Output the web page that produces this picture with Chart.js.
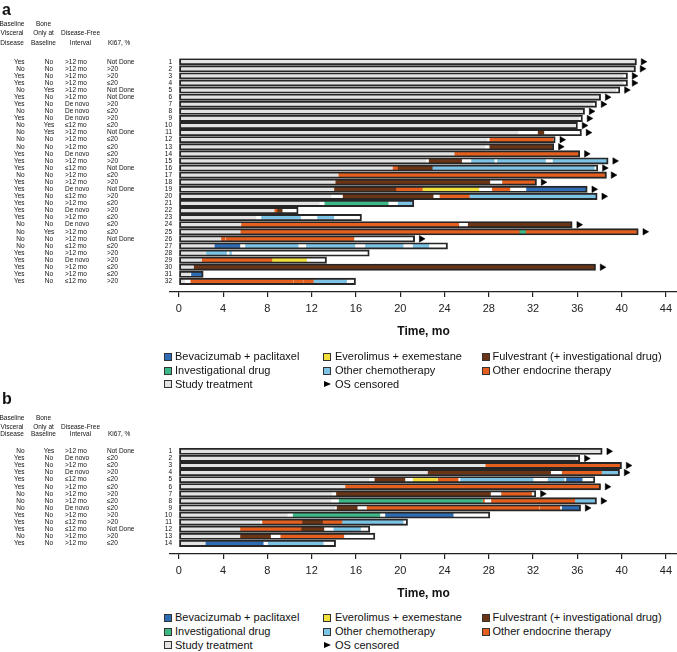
<!DOCTYPE html>
<html><head><meta charset="utf-8">
<script src="https://cdn.jsdelivr.net/npm/chart.js@4/dist/chart.umd.min.js"></script>
<style>
html,body{margin:0;padding:0;background:#fff}
body{width:677px;height:652px;overflow:hidden;position:relative;font-family:"Liberation Sans",Arial,sans-serif;color:#111}
canvas{position:absolute;left:0}
.sw{position:absolute;width:6px;height:6px;border:1px solid #333}
.tri{position:absolute;width:0;height:0;border-left:7px solid #000;border-top:3.5px solid transparent;border-bottom:3.5px solid transparent}
.lt{position:absolute;font-size:11px;line-height:13px;white-space:nowrap;color:#111}
</style></head><body>
<canvas id="ca" width="677" height="345" style="top:0"></canvas>
<canvas id="cb" width="677" height="217" style="top:390px"></canvas>
<div id="legends"></div>
<script>
const FONT = '"Liberation Sans", Arial, sans-serif';
const xTicks = [0,4,8,12,16,20,24,28,32,36,40,44];

// ---------- Panel a ----------
const rowsA = [1,2,3,4,5,6,7,8,9,10,11,12,13,14,15,16,17,18,19,20,21,22,23,24,25,26,27,28,29,30,31,32];
const visceralA = ['Yes','No','Yes','Yes','No','Yes','Yes','No','Yes','No','No','No','No','Yes','Yes','Yes','No','Yes','Yes','Yes','Yes','Yes','Yes','No','No','No','No','Yes','Yes','Yes','Yes','Yes'];
const boneA = ['No','No','No','No','Yes','No','No','No','No','Yes','Yes','No','No','No','No','No','No','No','No','No','No','No','No','No','Yes','No','No','No','No','No','No','No'];
const dfiA = ['>12 mo','>12 mo','>12 mo','>12 mo','>12 mo','>12 mo','De novo','De novo','De novo','≤12 mo','>12 mo','>12 mo','>12 mo','De novo','>12 mo','≤12 mo','>12 mo','>12 mo','De novo','≤12 mo','>12 mo','De novo','>12 mo','De novo','>12 mo','>12 mo','≤12 mo','>12 mo','De novo','>12 mo','>12 mo','≤12 mo'];
const ki67A = ['Not Done','>20','>20','≤20','Not Done','Not Done','>20','≤20','>20','≤20','Not Done','≤20','≤20','≤20','>20','Not Done','≤20','>20','Not Done','>20','≤20','>20','≤20','≤20','≤20','Not Done','≤20','>20','>20','≤20','≤20','>20'];
const studyEndA = [41.3,41.25,40.14,40.14,39.48,38.0,37.37,36.59,36.13,35.77,30.65,27.85,27.64,24.87,22.31,19.36,14.39,14.15,14.0,13.73,12.68,8.67,6.96,5.63,5.57,3.85,3.16,2.44,2.05,1.29,0.99,0.54];
const osEndA = [41.34,41.25,40.53,40.53,39.84,38.1,37.73,36.65,36.46,36.01,36.37,34.0,33.87,36.22,38.78,37.85,38.63,32.31,36.89,37.79,21.23,10.78,16.5,35.53,41.5,21.3,24.27,17.2,13.34,37.64,2.2,15.96];
const censoredA = [1,1,1,1,1,1,1,1,1,1,1,1,1,1,1,1,1,1,1,1,0,0,0,1,1,1,0,0,0,1,0,0];
// segments: [row, start, end] (months)
const bevaA = [[19,31.41,36.83],[27,3.25,5.51],[31,1.14,2.14]];
const everoA = [[19,22.07,27.1],[29,8.46,11.53]];
const fulvA = [[11,32.46,32.97],[13,28.09,33.75],[15,22.61,25.54],[16,19.81,22.89],[18,14.18,28.09],[19,14.06,19.6],[20,14.84,22.97],[22,8.91,9.33],[24,26.14,35.47],[30,1.38,37.58]];
const investA = [[21,13.19,18.91],[25,30.8,31.32]];
const chemoA = [[15,26.44,28.49],[15,28.79,33.12],[15,33.81,38.72],[16,22.89,37.52],[20,26.29,37.73],[21,19.81,21.17],[23,7.47,10.99],[23,12.53,14.0],[27,6.02,10.78],[27,11.53,15.9],[27,16.86,20.26],[27,21.17,22.58],[28,2.5,4.31],[28,4.6,4.75],[32,12.2,15.15]];
const endoA = [[12,28.09,33.81],[14,24.93,36.16],[16,19.36,19.81],[17,14.45,38.54],[18,29.24,32.16],[19,19.6,22.01],[19,28.33,29.9],[20,23.58,26.29],[22,8.67,8.91],[24,5.66,25.29],[25,5.6,30.8],[25,31.32,41.4],[26,3.85,4.16],[26,4.25,15.81],[29,2.11,8.46],[32,1.08,10.33],[32,10.4,11.2],[32,11.27,12.2]];

// ---------- Panel b ----------
const rowsB = [1,2,3,4,5,6,7,8,9,10,11,12,13,14];
const visceralB = ['No','Yes','Yes','Yes','Yes','Yes','No','No','No','Yes','Yes','Yes','No','Yes'];
const boneB = ['Yes','No','No','No','No','No','No','No','No','No','No','No','No','No'];
const dfiB = ['>12 mo','De novo','>12 mo','De novo','≤12 mo','>12 mo','>12 mo','>12 mo','De novo','>12 mo','≤12 mo','≤12 mo','>12 mo','>12 mo'];
const ki67B = ['Not Done','≤20','≤20','>20','≤20','≤20','>20','≤20','≤20','>20','>20','Not Done','>20','≤20'];
const studyEndB = [38.24,35.83,27.73,22.52,17.2,15.0,13.79,13.73,14.09,9.79,7.32,5.51,5.51,2.35];
const osEndB = [38.24,36.22,39.99,39.81,37.58,38.09,32.25,37.73,36.29,28.09,20.66,17.25,17.71,14.16];
const censoredB = [1,1,1,1,0,1,1,1,1,0,0,0,0,0];
const bevaB = [[5,35.02,36.43],[9,34.63,36.13],[10,18.67,24.78],[14,2.44,7.62]];
const everoB = [[5,21.17,23.33]];
const fulvB = [[4,22.52,33.58],[5,17.71,20.42],[7,14.24,28.15],[9,14.3,16.11],[11,11.17,12.98],[12,11.08,13.1],[13,5.57,8.28]];
const investB = [[8,14.48,27.43],[10,10.33,18.16]];
const chemoB = [[4,38.24,39.75],[5,25.45,32.0],[5,33.36,34.81],[8,35.83,37.64],[11,14.79,20.26],[12,14.0,16.41],[14,8.07,13.04]];
const endoB = [[3,27.73,39.9],[4,34.63,38.24],[5,23.42,25.23],[6,15.06,38.09],[7,29.15,31.86],[8,27.5,27.6],[8,28.24,35.83],[9,17.01,32.5],[9,32.6,34.42],[11,7.56,11.17],[11,12.98,14.79],[12,5.57,11.08],[13,9.21,14.9]];

// ---------- Legend ----------
const legendLabels = ['Bevacizumab + paclitaxel','Everolimus + exemestane','Fulvestrant (+ investigational drug)','Investigational drug','Other chemotherapy','Other endocrine therapy','Study treatment','OS censored'];
const colors = {beva:'#2E6DB4', evero:'#F2DF3A', fulv:'#6B3415', invest:'#3DB887', chemo:'#7CC3E6', endo:'#E5601F', study:'#E3E3E3'};
const legendColors = [colors.beva, colors.evero, colors.fulv, colors.invest, colors.chemo, colors.endo, colors.study, null];

const CENSOR_GAP = 0.6;

function seg(list){ return list.map(s => ({y:s[0], x:[s[1], s[2]]})); }

function buildDatasets(p){
  const bar = (label, data, color, thick, order) => ({
    type:'bar', label, data, backgroundColor:color, borderWidth:0,
    barThickness:thick, grouped:false, indexAxis:'y', order
  });
  return [
    {type:'scatter', label:'OS censored', order:0,
     data: p.rows.filter((r,i)=>p.cens[i]).map(r => ({x: p.os[p.rows.indexOf(r)] + CENSOR_GAP, y:r})),
     pointStyle:'triangle', rotation:90, pointRadius:3.8, backgroundColor:'#000', borderColor:'#000', borderWidth:0.5},
    {type:'bar', label:'outline', order:1, indexAxis:'y', grouped:false,
     data: p.rows.map((r,i)=>({y:r, x:[0, p.os[i]]})),
     backgroundColor:'rgba(0,0,0,0)', borderColor:'#262626', borderWidth:1.25, borderSkipped:false, barThickness:6.4},
    bar('Bevacizumab + paclitaxel', seg(p.beva), colors.beva, 3.8, 2),
    bar('Everolimus + exemestane', seg(p.evero), colors.evero, 3.8, 2),
    bar('Fulvestrant (+ investigational drug)', seg(p.fulv), colors.fulv, 3.8, 2),
    bar('Investigational drug', seg(p.invest), colors.invest, 3.8, 2),
    bar('Other chemotherapy', seg(p.chemo), colors.chemo, 3.8, 2),
    bar('Other endocrine therapy', seg(p.endo), colors.endo, 3.8, 2),
    bar('Study treatment', p.rows.map((r,i)=>({y:r, x:[0, p.study[i]]})), colors.study, 4.6, 3)
  ];
}

function tablePlugin(p){
  return {
    id:'table_'+p.letter,
    afterDraw(chart){
      const ctx = chart.ctx, ys = chart.scales.y;
      ctx.save();
      ctx.fillStyle = '#111';
      ctx.textBaseline = 'middle';
      ctx.font = '6.5px ' + FONT;
      p.rows.forEach((r,i) => {
        const y = ys.getPixelForValue(r);
        ctx.textAlign = 'right'; ctx.fillText(p.visceral[i], 24.5, y);
        ctx.textAlign = 'center'; ctx.fillText(p.bone[i], 49, y);
        ctx.textAlign = 'left'; ctx.fillText(p.dfi[i], 65, y); ctx.fillText(p.ki67[i], 107, y);
        ctx.textAlign = 'right'; ctx.fillText(String(r), 172, y);
      });
      const y1 = ys.getPixelForValue(p.rows[0]);
      const h = p.head;
      ctx.textAlign = 'center';
      ctx.fillText('Baseline', 12, y1 - h[0]);
      ctx.fillText('Visceral', 12, y1 - h[1]);
      ctx.fillText('Disease', 12, y1 - h[2]);
      ctx.fillText('Bone', 43.5, y1 - h[0]);
      ctx.fillText('Only at', 43.5, y1 - h[1]);
      ctx.fillText('Baseline', 43.5, y1 - h[2]);
      ctx.fillText('Disease-Free', 80.5, y1 - h[1]);
      ctx.fillText('Interval', 80.5, y1 - h[2]);
      ctx.textAlign = 'left';
      ctx.fillText('Ki67, %', 108, y1 - h[2]);
      ctx.font = 'bold 16px ' + FONT;
      ctx.textBaseline = 'alphabetic';
      ctx.fillText(p.letter, 2, p.letterY);
      ctx.restore();
    }
  };
}

function makeChart(id, p){
  return new Chart(document.getElementById(id), {
    type:'bar',
    data:{ datasets: buildDatasets(p) },
    plugins:[tablePlugin(p)],
    options:{
      indexAxis:'y', responsive:false, animation:false, events:[],
      layout:{ autoPadding:false, padding:{left:170, right:0, top:p.padTop, bottom:0} },
      plugins:{ legend:{display:false}, tooltip:{enabled:false} },
      scales:{
        x:{ type:'linear', min:-0.8, max:45, offset:false,
            afterBuildTicks: s => { s.ticks = xTicks.map(v => ({value:v})); },
            afterFit: s => { s.height = 53; s.paddingLeft = 0; s.paddingRight = 0; },
            grid:{ drawOnChartArea:false, drawTicks:true, tickLength:5, color:'#222', lineWidth:1.2, offset:false },
            border:{ display:true, color:'#222', width:1.2 },
            ticks:{ font:{family:FONT, size:11}, color:'#222', padding:5, maxRotation:0, autoSkip:false },
            title:{ display:true, text:'Time, mo', color:'#111', font:{family:FONT, size:12, weight:'bold'}, padding:{top:2, bottom:5.8} }
        },
        y:{ type:'linear', display:false, reverse:true, offset:false, min:0.5, max:p.rows.length + 1.5,
            grid:{offset:false} }
      }
    }
  });
}

makeChart('ca', {letter:'a', letterY:15, padTop:58.2, head:[37.7,28.4,18.4],
  rows:rowsA, visceral:visceralA, bone:boneA, dfi:dfiA, ki67:ki67A, study:studyEndA, os:osEndA, cens:censoredA,
  beva:bevaA, evero:everoA, fulv:fulvA, invest:investA, chemo:chemoA, endo:endoA});
makeChart('cb', {letter:'b', letterY:14, padTop:57.8, head:[33,24.5,17],
  rows:rowsB, visceral:visceralB, bone:boneB, dfi:dfiB, ki67:ki67B, study:studyEndB, os:osEndB, cens:censoredB,
  beva:bevaB, evero:everoB, fulv:fulvB, invest:investB, chemo:chemoB, endo:endoB});

// HTML legends
const legCols = [{m:163.5, t:175}, {m:323, t:335}, {m:482, t:492.5}];
function drawLegend(rowYs){
  const host = document.getElementById('legends');
  legendLabels.forEach((lab, i) => {
    const col = legCols[i % 3], y = rowYs[Math.floor(i / 3)];
    const m = document.createElement('div');
    if (legendColors[i]) { m.className = 'sw'; m.style.background = legendColors[i]; m.style.left = col.m + 'px'; m.style.top = (y - 4) + 'px'; }
    else { m.className = 'tri'; m.style.left = (col.m + 0.5) + 'px'; m.style.top = (y - 3.5) + 'px'; }
    host.appendChild(m);
    const t = document.createElement('div');
    t.className = 'lt'; t.textContent = lab; t.style.left = col.t + 'px'; t.style.top = (y - 6.5) + 'px';
    host.appendChild(t);
  });
}
drawLegend([356.7, 370.7, 384.4]);
drawLegend([617.7, 631.6, 645.2]);
</script>
</body></html>
